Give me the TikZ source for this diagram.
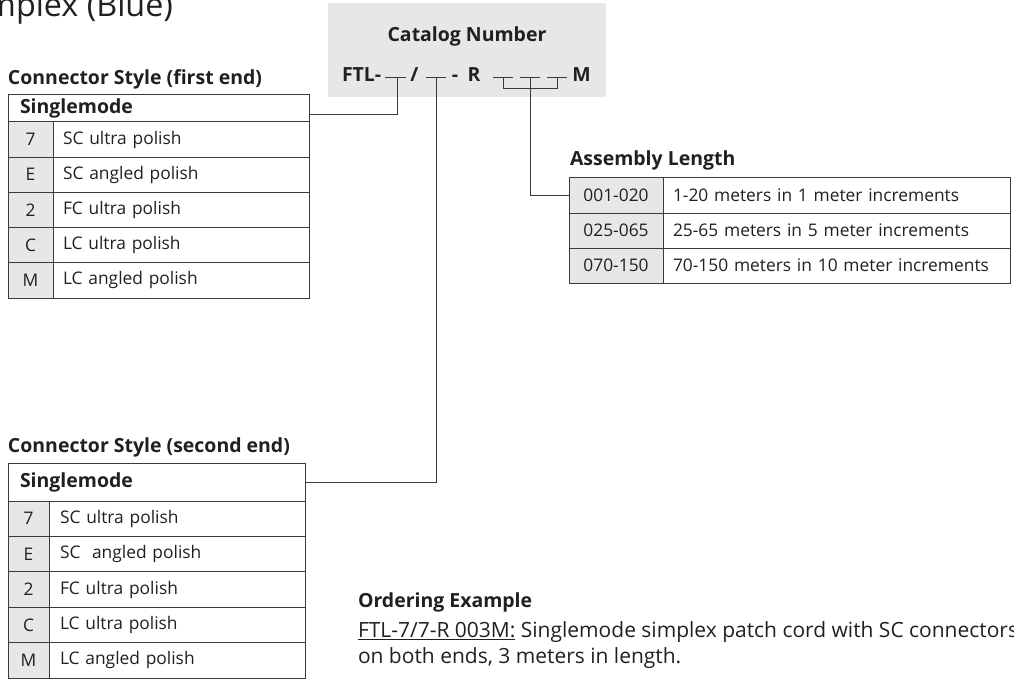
\documentclass[tikz,border=0pt]{standalone}
\usepackage{fontspec}
\setmainfont{Open Sans}
\definecolor{linec}{HTML}{3A3A3A}
\definecolor{cellgray}{HTML}{E6E7E8}
\definecolor{txt}{HTML}{231F20}
\newlength\calw
\newcommand\calib[3]{\settowidth\calw{\fontsize{10pt}{12pt}\selectfont #2}\pgfmathsetmacro#1{10*#3/\calw}}
\tikzset{
  rfont/.style={font=\fontsize{\rsz}{\rsz}\selectfont},
  bfont/.style={font=\fontsize{\bsz}{\bsz}\selectfont\bfseries},
  ofont/.style={font=\fontsize{\osz}{\osz}\selectfont},
  tfont/.style={font=\fontsize{\tsz}{\tsz}\selectfont},
  lbl/.style={inner sep=0pt, outer sep=0pt, text=txt},
  cell/.style={draw=linec, line width=1pt, anchor=north west, inner sep=0pt, outer sep=0pt, text=txt, rfont},
  codecell/.style={cell, fill=cellgray},
  desccell/.style={cell, align=left, inner xsep=10pt},
  hdrcell/.style={cell, bfont, align=left, inner xsep=12pt},
  conn/.style={draw=linec, line width=1pt},
}
\begin{document}
\calib\rsz{SC ultra polish 70-150 meters in 10 meter increments}{430}%
\calib\bsz{\bfseries Connector Style (first end)}{254}%
\calib\osz{FTL-7/7-R 003M: Singlemode simplex patch cord with SC connectors}{660}%
\calib\tsz{plex (Blue)}{157}%
\begin{tikzpicture}[x=1pt,y=-1pt]
\useasboundingbox (0,0) rectangle (1014,679);

% title (cut off at the left edge)
\begin{scope}
\clip (0,0) rectangle (1014,679);
\node[lbl, tfont, anchor=base east] (title) at (173,17) {Simplex (Blue)};
\end{scope}

% ---------- catalog number box ----------
\node[fill=cellgray, anchor=north west, minimum width=278pt, minimum height=94pt, inner sep=0pt] (cat) at (328,3) {};
\node[lbl, bfont, anchor=base] (catt) at (467,42) {Catalog Number};
\node[lbl, bfont, anchor=base west] (ftl) at (342,82) {FTL-};
\node[lbl, bfont, anchor=base] (sl) at (414.5,82) {/};
\node[lbl, bfont, anchor=base] (dash) at (455,82) {-};
\node[lbl, bfont, anchor=base] (rr) at (474,82) {R};
\node[lbl, bfont, anchor=base] (mm) at (581.5,82) {M};
\coordinate (u1a) at (385,78); \coordinate (u1b) at (406,78); \coordinate (u1) at (397,78);
\coordinate (u2a) at (426,78); \coordinate (u2b) at (446,78); \coordinate (u2) at (436,78);
\coordinate (u3a) at (493,78); \coordinate (u3b) at (513,78); \coordinate (u3) at (503,78);
\coordinate (u4a) at (520,78); \coordinate (u4b) at (540,78); \coordinate (u4) at (530,78);
\coordinate (u5a) at (547,78); \coordinate (u5b) at (567,78); \coordinate (u5) at (557,78);
\foreach \u in {1,...,5} {\draw[conn] (u\u a) -- (u\u b);}

% ---------- table 1 : first end ----------
\node[lbl, bfont, anchor=base west] (t1t) at (8,85) {Connector Style (first end)};
\node[hdrcell, minimum height=27pt, text width=277pt] (t1h) at (8,95) {Singlemode};
\foreach \c/\d [count=\k from 0] in {7/SC ultra polish, E/SC angled polish, 2/FC ultra polish, C/LC ultra polish, M/LC angled polish}{
  \node[codecell, minimum width=45pt, minimum height=35.2pt] (t1c\k) at (8,122+35.2*\k) {\c};
  \node[desccell, minimum height=35.2pt, text width=236pt] (t1d\k) at (53,122+35.2*\k) {\mbox{\d}};
}

% ---------- table 2 : second end ----------
\node[lbl, bfont, anchor=base west] (t2t) at (8,452) {Connector Style (second end)};
\node[hdrcell, minimum height=38pt, text width=273pt] (t2h) at (8,463) {Singlemode};
\foreach \c/\d [count=\k from 0] in {7/SC ultra polish, E/SC\ \ angled polish, 2/FC ultra polish, C/LC ultra polish, M/LC angled polish}{
  \node[codecell, minimum width=41pt, minimum height=35.4pt] (t2c\k) at (8,501+35.4*\k) {\c};
  \node[desccell, inner xsep=11pt, minimum height=35.4pt, text width=234pt] (t2d\k) at (49,501+35.4*\k) {\mbox{\d}};
}

% ---------- assembly length ----------
\node[lbl, bfont, anchor=base west] (alt) at (570,166) {Assembly Length};
\foreach \c/\d [count=\k from 0] in {001-020/1-20 meters in 1 meter increments, 025-065/25-65 meters in 5 meter increments, 070-150/70-150 meters in 10 meter increments}{
  \node[codecell, minimum width=94pt, minimum height=35pt] (ac\k) at (569,178+35*\k) {\c};
  \node[desccell, minimum height=35pt, text width=327pt] (ad\k) at (663,178+35*\k) {\mbox{\d}};
}

% ---------- connectors ----------
\draw[conn] (u1) |- ([yshift=-6.5pt]t1h.east);
\draw[conn] (u2) |- (t2h.east);
\draw[conn] (u3) -- ++(0,11) -| (u5);
\draw[conn] (u4) |- (ac0.west);

% ---------- ordering example ----------
\node[lbl, bfont, anchor=base west] (oe) at (358,607) {Ordering Example};
\node[lbl, ofont, anchor=base west] (oe1) at (358,637) {\underline{FTL-7/7-R 003M:} Singlemode simplex patch cord with SC connectors};
\node[lbl, ofont, anchor=base west] (oe2) at (358,663) {on both ends, 3 meters in length.};
\end{tikzpicture}
\end{document}
